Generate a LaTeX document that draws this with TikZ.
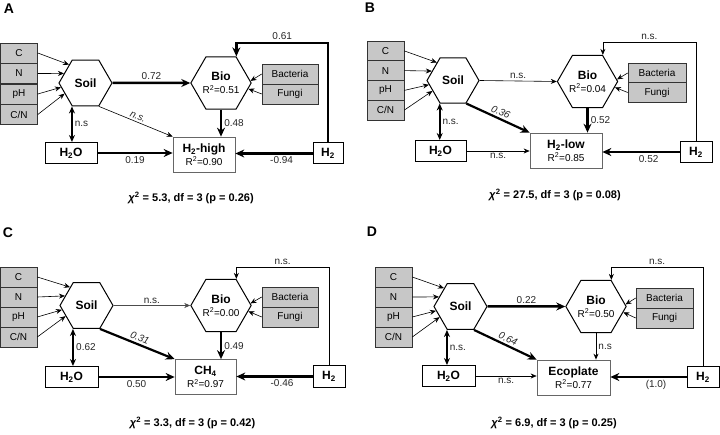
\documentclass[tikz,border=0pt]{standalone}
\usepackage{fontspec}
\setmainfont{Liberation Sans}
\usetikzlibrary{shapes.geometric,arrows.meta}

\tikzset{
  var/.style={draw=black!80, fill=black!22, line width=0.6pt, minimum width=37pt, minimum height=20pt, inner sep=0pt, font=\fontsize{10}{12}\selectfont},
  hexa/.style={regular polygon, regular polygon sides=6, draw, line width=1pt, minimum size=53pt, inner sep=0pt, align=center, font=\fontsize{10}{13}\selectfont},
  obs/.style={draw, line width=1pt, minimum height=21pt, inner sep=0pt, font=\fontsize{12}{14}\selectfont\bfseries},
  resp/.style={draw=black!60, line width=0.7pt, minimum height=35pt, inner sep=0pt, align=center, font=\fontsize{10}{13}\selectfont},
  thk/.style={line width=2.5pt, -{Stealth[length=9pt,width=8pt]}},
  thn/.style={line width=0.6pt, -{Stealth[length=6pt,width=5pt]}},
  dbl/.style={line width=1.6pt, {Stealth[length=7pt,width=6pt]}-{Stealth[length=7pt,width=6pt]}},
  lbl/.style={font=\fontsize{10}{12}\selectfont, text=black!85, inner sep=2pt},
  lettr/.style={font=\fontsize{14}{16}\selectfont\bfseries},
  chi/.style={font=\fontsize{11}{13}\selectfont\bfseries}
}
\newcommand{\hd}[1]{{\fontsize{12}{13}\selectfont\bfseries #1}}

\begin{document}
\begin{tikzpicture}[x=1pt,y=-1pt]
    \useasboundingbox (0,0) rectangle (720,435);

    %Top Left
    \node[lettr] (letA) at (9,9) {A};
    \node[var] (cA) at (19,53) {C};
    \node[var] (nA) at (19,73.5) {N};
    \node[var] (phA) at (19,94) {pH};
    \node[var] (cnA) at (19,114.5) {C/N};
    \node[hexa] (soilA) at (85.5,83) {\hd{Soil}};
    \node[hexa, minimum size=52pt] (bioA) at (221,83) {\hd{Bio}\\R\textsuperscript{2}=0.51};
    \node[var, minimum width=56pt] (bacA) at (290,74) {Bacteria};
    \node[var, minimum width=56pt] (fungA) at (290,94) {Fungi};
    \node[obs, minimum width=52pt] (h2oA) at (71,153) {H\textsubscript{2}O};
    \node[resp, minimum width=62pt] (tgtA) at (204,154.5) {\hd{H\textsubscript{2}-high}\\R\textsuperscript{2}=0.90};
    \node[obs, minimum width=30pt] (h2A) at (328,153.5) {H\textsubscript{2}};
    \coordinate (topA) at (0,43);
    \node[chi] (chiA) at (191,198) {\textit{χ}\textsuperscript{2} = 5.3, df = 3 (p = 0.26)};

    \draw[thn] (cA.east) -- (soilA.132);
    \draw[thn] (nA.east) -- (soilA.156);
    \draw[thn] (phA.east) -- (soilA.190);
    \draw[thn] (cnA.east) -- (soilA.207);
    \draw[thn] (bacA.west) -- (bioA.4);
    \draw[thn] (fungA.west) -- (bioA.-12);
    \draw[thk] (soilA.east) -- node[lbl, above] (wA1) {0.72} (bioA.west);
    \draw[thn] (soilA.300) -- node[lbl, above, sloped, font=\fontsize{10}{12}\selectfont\itshape] (wA2) {n.s.} (tgtA.north west);
    \draw[dbl] (soilA.240) -- node[lbl, right] (wA3) {n.s} (soilA.240 |- h2oA.north);
    \draw[thk] (bioA.south) -- node[lbl, right] (wA4) {0.48} (bioA.south |- tgtA.north);
    \draw[thk] (h2oA.east) -- node[lbl, below] (wA5) {0.19} (h2oA.east -| tgtA.west);
    \draw[thk] (h2A.west) -- node[lbl, below, pos=0.4] (wA6) {-0.94} (h2A.west -| tgtA.east);
    \draw[thk] (h2A.north) -- (h2A.north |- topA) -| node[lbl, above, pos=0.25] (wA7) {0.61} (bioA.60);

    %Top Right
    \node[lettr] (letB) at (370,8) {B};
    \node[var] (cB) at (385.5,50.9) {C};
    \node[var] (nB) at (385.5,70.6) {N};
    \node[var] (phB) at (385.5,90.4) {pH};
    \node[var] (cnB) at (385.5,110.1) {C/N};
    \node[hexa, minimum size=52pt] (soilB) at (453,80.5) {\hd{Soil}};
    \node[hexa, minimum size=51pt] (bioB) at (587.5,81.5) {\hd{Bio}\\R\textsuperscript{2}=0.04};
    \node[var, minimum width=58pt] (bacB) at (657,73) {Bacteria};
    \node[var, minimum width=58pt] (fungB) at (657,92.5) {Fungi};
    \node[obs, minimum width=51pt] (h2oB) at (440.5,151) {H\textsubscript{2}O};
    \node[resp, minimum width=72pt] (tgtB) at (566,150.5) {\hd{H\textsubscript{2}-low}\\R\textsuperscript{2}=0.85};
    \node[obs, minimum width=32pt] (h2B) at (696,152) {H\textsubscript{2}};
    \coordinate (topB) at (0,42);
    \node[chi] (chiB) at (555,195) {\textit{χ}\textsuperscript{2} = 27.5, df = 3 (p = 0.08)};

    \draw[thn] (cB.east) -- (soilB.132);
    \draw[thn] (nB.east) -- (soilB.156);
    \draw[thn] (phB.east) -- (soilB.190);
    \draw[thn] (cnB.east) -- (soilB.207);
    \draw[thn] (bacB.west) -- (bioB.4);
    \draw[thn] (fungB.west) -- (bioB.-12);
    \draw[thn] (soilB.east) -- node[lbl, above] (wB1) {n.s.} (bioB.west);
    \draw[thk, line width=2.2pt] (soilB.300) -- node[lbl, above, sloped, font=\fontsize{10}{12}\selectfont\itshape] (wB2) {0.36} (tgtB.north west);
    \draw[dbl] (soilB.240) -- node[lbl, right] (wB3) {n.s.} (soilB.240 |- h2oB.north);
    \draw[thk] (bioB.south) -- node[lbl, right] (wB4) {0.52} (bioB.south |- tgtB.north);
    \draw[thn] (h2oB.east) -- node[lbl, below] (wB5) {n.s.} (h2oB.east -| tgtB.west);
    \draw[thk] (h2B.west) -- node[lbl, below, pos=0.4] (wB6) {0.52} (h2B.west -| tgtB.east);
    \draw[thn] (h2B.north) -- (h2B.north |- topB) -| node[lbl, above, pos=0.25] (wB7) {n.s.} (bioB.60);

    %Bot Left
    \node[lettr] (letC) at (8,233) {C};
    \node[var] (cC) at (18.5,277) {C};
    \node[var] (nC) at (18.5,297) {N};
    \node[var] (phC) at (18.5,317) {pH};
    \node[var] (cnC) at (18.5,337) {C/N};
    \node[hexa] (soilC) at (86.5,305.5) {\hd{Soil}};
    \node[hexa, minimum size=52pt] (bioC) at (221,305.5) {\hd{Bio}\\R\textsuperscript{2}=0.00};
    \node[var, minimum width=56pt] (bacC) at (290,297) {Bacteria};
    \node[var, minimum width=56pt] (fungC) at (290,317) {Fungi};
    \node[obs, minimum width=53pt] (h2oC) at (71.5,377) {H\textsubscript{2}O};
    \node[resp, minimum width=61pt] (tgtC) at (205.5,377) {\hd{CH\textsubscript{4}}\\R\textsuperscript{2}=0.97};
    \node[obs, minimum width=32pt] (h2C) at (329,376.5) {H\textsubscript{2}};
    \coordinate (topC) at (0,267);
    \node[chi] (chiC) at (192.5,423) {\textit{χ}\textsuperscript{2} = 3.3, df = 3 (p = 0.42)};

    \draw[thn] (cC.east) -- (soilC.132);
    \draw[thn] (nC.east) -- (soilC.156);
    \draw[thn] (phC.east) -- (soilC.190);
    \draw[thn] (cnC.east) -- (soilC.207);
    \draw[thn] (bacC.west) -- (bioC.4);
    \draw[thn] (fungC.west) -- (bioC.-12);
    \draw[thn, draw=black!70] (soilC.east) -- node[lbl, above] (wC1) {n.s.} (bioC.west);
    \draw[thk, line width=2.2pt] (soilC.300) -- node[lbl, above, sloped, font=\fontsize{10}{12}\selectfont\itshape] (wC2) {0.31} (tgtC.north west);
    \draw[dbl, line width=2.5pt] (soilC.240) -- node[lbl, right] (wC3) {0.62} (soilC.240 |- h2oC.north);
    \draw[thk] (bioC.south) -- node[lbl, right] (wC4) {0.49} (bioC.south |- tgtC.north);
    \draw[thk] (h2oC.east) -- node[lbl, below] (wC5) {0.50} (h2oC.east -| tgtC.west);
    \draw[thk] (h2C.west) -- node[lbl, below, pos=0.4] (wC6) {-0.46} (h2C.west -| tgtC.east);
    \draw[thn] (h2C.north) -- (h2C.north |- topC) -| node[lbl, above, pos=0.25] (wC7) {n.s.} (bioC.60);

    %Bot Right
    \node[lettr] (letD) at (372,232) {D};
    \node[var] (cD) at (393.5,277) {C};
    \node[var] (nD) at (393.5,297) {N};
    \node[var] (phD) at (393.5,317) {pH};
    \node[var] (cnD) at (393.5,337) {C/N};
    \node[hexa] (soilD) at (460.5,306.5) {\hd{Soil}};
    \node[hexa, minimum size=52pt] (bioD) at (596,306.5) {\hd{Bio}\\R\textsuperscript{2}=0.50};
    \node[var, minimum width=57pt] (bacD) at (664.5,298) {Bacteria};
    \node[var, minimum width=57pt] (fungD) at (664.5,318) {Fungi};
    \node[obs, minimum width=53pt] (h2oD) at (448.5,376) {H\textsubscript{2}O};
    \node[resp, minimum width=73pt] (tgtD) at (573.5,377.5) {\hd{Ecoplate}\\R\textsuperscript{2}=0.77};
    \node[obs, minimum width=32pt] (h2D) at (703,377) {H\textsubscript{2}};
    \coordinate (topD) at (0,267);
    \node[chi] (chiD) at (554,423) {\textit{χ}\textsuperscript{2} = 6.9, df = 3 (p = 0.25)};

    \draw[thn] (cD.east) -- (soilD.132);
    \draw[thn] (nD.east) -- (soilD.156);
    \draw[thn] (phD.east) -- (soilD.190);
    \draw[thn] (cnD.east) -- (soilD.207);
    \draw[thn] (bacD.west) -- (bioD.4);
    \draw[thn] (fungD.west) -- (bioD.-12);
    \draw[thk] (soilD.east) -- node[lbl, above] (wD1) {0.22} (bioD.west);
    \draw[thk, line width=2.2pt] (soilD.300) -- node[lbl, above, sloped, font=\fontsize{10}{12}\selectfont\itshape] (wD2) {0.64} (tgtD.north west);
    \draw[dbl] (soilD.240) -- node[lbl, right] (wD3) {n.s.} (soilD.240 |- h2oD.north);
    \draw[thn, line width=0.9pt] (bioD.south) -- node[lbl, right] (wD4) {n.s} (bioD.south |- tgtD.north);
    \draw[thn] (h2oD.east) -- node[lbl, below] (wD5) {n.s.} (h2oD.east -| tgtD.west);
    \draw[thk] (h2D.west) -- node[lbl, below, pos=0.4] (wD6) {(1.0)} (h2D.west -| tgtD.east);
    \draw[thn] (h2D.north) -- (h2D.north |- topD) -| node[lbl, above, pos=0.25] (wD7) {n.s.} (bioD.60);
\end{tikzpicture}
\end{document}
